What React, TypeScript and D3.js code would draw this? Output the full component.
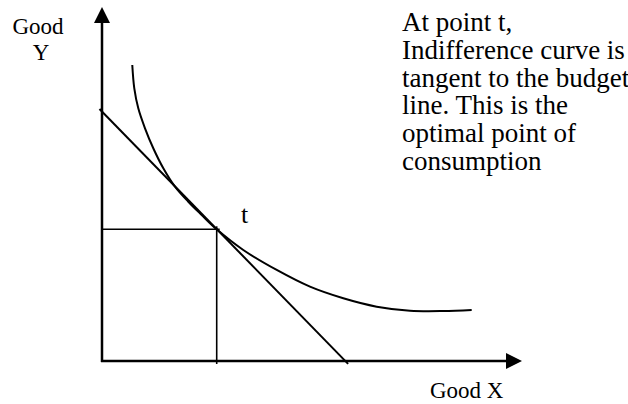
import React from "react";
import * as d3 from "d3";

// Indifference curve points (Good X, Good Y) in chart units
const curveX = [0.721, 0.769, 0.864, 1.024, 1.221, 1.46, 1.738, 2.055, 2.374, 2.731, 3.364, 4.16, 4.952, 5.745, 6.54, 7.333, 8.126, 8.802];
const curveY = [8.362, 7.703, 7.138, 6.574, 6.01, 5.444, 4.924, 4.5, 4.124, 3.72, 3.136, 2.571, 2.099, 1.771, 1.534, 1.421, 1.412, 1.441];

// Budget line endpoints
const budgetX = [-0.06, 5.86];
const budgetY = [7.12, -0.08];

// Optimal point t
const optimalX = [2.731];
const optimalY = [3.72];

const axisLabels = ["Good X", "Good", "Y"];
const noteLines = [
  "At point t,",
  "Indifference curve is",
  "tangent to the budget",
  "line. This is the",
  "optimal point of",
  "consumption",
];

const W = 628;
const H = 404;

export default function App() {
  const x = d3.scaleLinear().domain([0, 10]).range([102, 522]);
  const y = d3.scaleLinear().domain([0, 10]).range([361, 7]);

  const curvePts: [number, number][] = curveX.map((v, i) => [v, curveY[i]]);
  const curvePath = d3
    .line<[number, number]>()
    .x((d) => x(d[0]))
    .y((d) => y(d[1]))
    .curve(d3.curveCatmullRom.alpha(0.5))(curvePts) as string;

  const tx = x(optimalX[0]);
  const ty = y(optimalY[0]);
  const font = "'Liberation Serif', 'Times New Roman', serif";

  const x0 = x(0);
  const y0 = y(0);
  const xEnd = x(10);
  const yTop = y(10);

  return (
    <svg
      width={W}
      height={H}
      style={{ position: "absolute", left: 0, top: 0, background: "#fff" }}
    >
      {/* axes */}
      <line x1={x0} y1={y0 + 1} x2={x0} y2={yTop + 14} stroke="#000" strokeWidth={2.5} />
      <path d={`M${x0},${yTop} L${x0 - 8},${yTop + 16} L${x0 + 8},${yTop + 16} Z`} fill="#000" />
      <line x1={x0 - 1} y1={y0} x2={xEnd - 14} y2={y0} stroke="#000" strokeWidth={2.5} />
      <path d={`M${xEnd},${y0} L${xEnd - 16},${y0 - 8} L${xEnd - 16},${y0 + 8} Z`} fill="#000" />

      {/* budget line */}
      <line
        x1={x(budgetX[0])}
        y1={y(budgetY[0])}
        x2={x(budgetX[1])}
        y2={y(budgetY[1])}
        stroke="#000"
        strokeWidth={2}
      />

      {/* drop lines to t */}
      <line x1={x0} y1={ty} x2={tx + 3} y2={ty} stroke="#000" strokeWidth={1.6} />
      <line x1={tx} y1={ty - 3} x2={tx} y2={y0 + 3} stroke="#000" strokeWidth={1.6} />

      {/* indifference curve */}
      <path d={curvePath} fill="none" stroke="#000" strokeWidth={2} />

      {/* labels */}
      <g fontFamily={font} fill="#000">
        <text x={38} y={34} fontSize={23} textAnchor="middle">{axisLabels[1]}</text>
        <text x={41} y={60} fontSize={23} textAnchor="middle">{axisLabels[2]}</text>
        <text x={430} y={398} fontSize={23}>{axisLabels[0]}</text>
        <text x={241} y={223} fontSize={26}>t</text>
        {noteLines.map((s, i) => (
          <text key={i} x={402} y={31 + i * 27.8} fontSize={27}>{s}</text>
        ))}
      </g>
    </svg>
  );
}
